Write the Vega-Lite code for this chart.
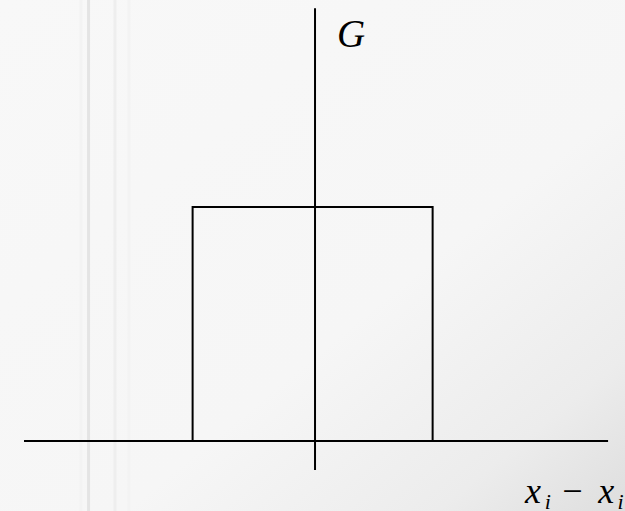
{
  "$schema": "https://vega.github.io/schema/vega-lite/v6.json",
  "width": 625,
  "height": 511,
  "padding": 0,
  "autosize": {"type": "none"},
  "config": {"view": {"stroke": null}},
  "datasets": {
    "frame": [{"x": -2.625, "x2": 2.583, "y": -0.299, "y2": 1.885}],
    "stripes": [
      {"x": -1.95, "tone": "light"},
      {"x": -1.887, "tone": "dark"},
      {"x": -1.667, "tone": "mid"},
      {"x": -1.55, "tone": "light"}
    ],
    "axes": [
      {"name": "horizontal", "x": -2.425, "x2": 2.442, "y": 0, "y2": 0},
      {"name": "vertical", "x": 0, "x2": 0, "y": -0.124, "y2": 1.85}
    ],
    "kernel": [
      {"i": 0, "d": -1.02, "g": 0},
      {"i": 1, "d": -1.02, "g": 1},
      {"i": 2, "d": 0.98, "g": 1},
      {"i": 3, "d": 0.98, "g": 0}
    ],
    "labels": [
      {"text": "G", "x": 0.183, "y": 1.684, "kind": "title"},
      {"text": "x", "x": 1.75, "y": -0.265, "kind": "main"},
      {"text": "i", "x": 1.915, "y": -0.291, "kind": "sub"},
      {"text": "−", "x": 2.06, "y": -0.265, "kind": "op"},
      {"text": "x", "x": 2.36, "y": -0.265, "kind": "main"},
      {"text": "i", "x": 2.52, "y": -0.291, "kind": "sub"}
    ]
  },
  "encoding": {
    "x": {"type": "quantitative", "scale": {"domain": [-2.625, 2.583], "nice": false, "zero": false}, "axis": null},
    "y": {"type": "quantitative", "scale": {"domain": [-0.299, 1.885], "nice": false, "zero": false}, "axis": null}
  },
  "layer": [
    {
      "data": {"name": "frame"},
      "mark": {
        "type": "rect",
        "color": {
          "gradient": "linear",
          "x1": 0, "y1": 0, "x2": 1, "y2": 1,
          "stops": [
            {"offset": 0, "color": "#f8f8f8"},
            {"offset": 0.6, "color": "#f6f6f6"},
            {"offset": 0.85, "color": "#ececec"},
            {"offset": 1, "color": "#dedede"}
          ]
        }
      },
      "encoding": {"x": {"field": "x"}, "x2": {"field": "x2"}, "y": {"field": "y"}, "y2": {"field": "y2"}}
    },
    {
      "data": {"name": "stripes"},
      "mark": {"type": "rule", "strokeWidth": 3},
      "encoding": {
        "x": {"field": "x"},
        "color": {
          "field": "tone", "type": "nominal", "legend": null,
          "scale": {"domain": ["light", "mid", "dark"], "range": ["#f3f3f3", "#eeeeee", "#e4e4e4"]}
        }
      }
    },
    {
      "data": {"name": "axes"},
      "mark": {"type": "rule", "color": "#000000", "strokeWidth": 2},
      "encoding": {"x": {"field": "x"}, "x2": {"field": "x2"}, "y": {"field": "y"}, "y2": {"field": "y2"}}
    },
    {
      "data": {"name": "kernel"},
      "mark": {"type": "line", "color": "#000000", "strokeWidth": 2, "strokeJoin": "miter"},
      "encoding": {"x": {"field": "d"}, "y": {"field": "g"}, "order": {"field": "i"}}
    },
    {
      "data": {"name": "labels"},
      "transform": [{"filter": "datum.kind === 'title'"}],
      "mark": {"type": "text", "font": "Liberation Serif", "fontStyle": "italic", "fontSize": 39, "align": "left", "baseline": "alphabetic", "color": "#000000"},
      "encoding": {"x": {"field": "x"}, "y": {"field": "y"}, "text": {"field": "text"}}
    },
    {
      "data": {"name": "labels"},
      "transform": [{"filter": "datum.kind === 'main'"}],
      "mark": {"type": "text", "font": "Liberation Serif", "fontStyle": "italic", "fontSize": 36, "align": "left", "baseline": "alphabetic", "color": "#000000"},
      "encoding": {"x": {"field": "x"}, "y": {"field": "y"}, "text": {"field": "text"}}
    },
    {
      "data": {"name": "labels"},
      "transform": [{"filter": "datum.kind === 'sub'"}],
      "mark": {"type": "text", "font": "Liberation Serif", "fontStyle": "italic", "fontSize": 22, "align": "left", "baseline": "alphabetic", "color": "#000000"},
      "encoding": {"x": {"field": "x"}, "y": {"field": "y"}, "text": {"field": "text"}}
    },
    {
      "data": {"name": "labels"},
      "transform": [{"filter": "datum.kind === 'op'"}],
      "mark": {"type": "text", "font": "Liberation Serif", "fontSize": 36, "align": "left", "baseline": "alphabetic", "color": "#000000"},
      "encoding": {"x": {"field": "x"}, "y": {"field": "y"}, "text": {"field": "text"}}
    }
  ]
}
